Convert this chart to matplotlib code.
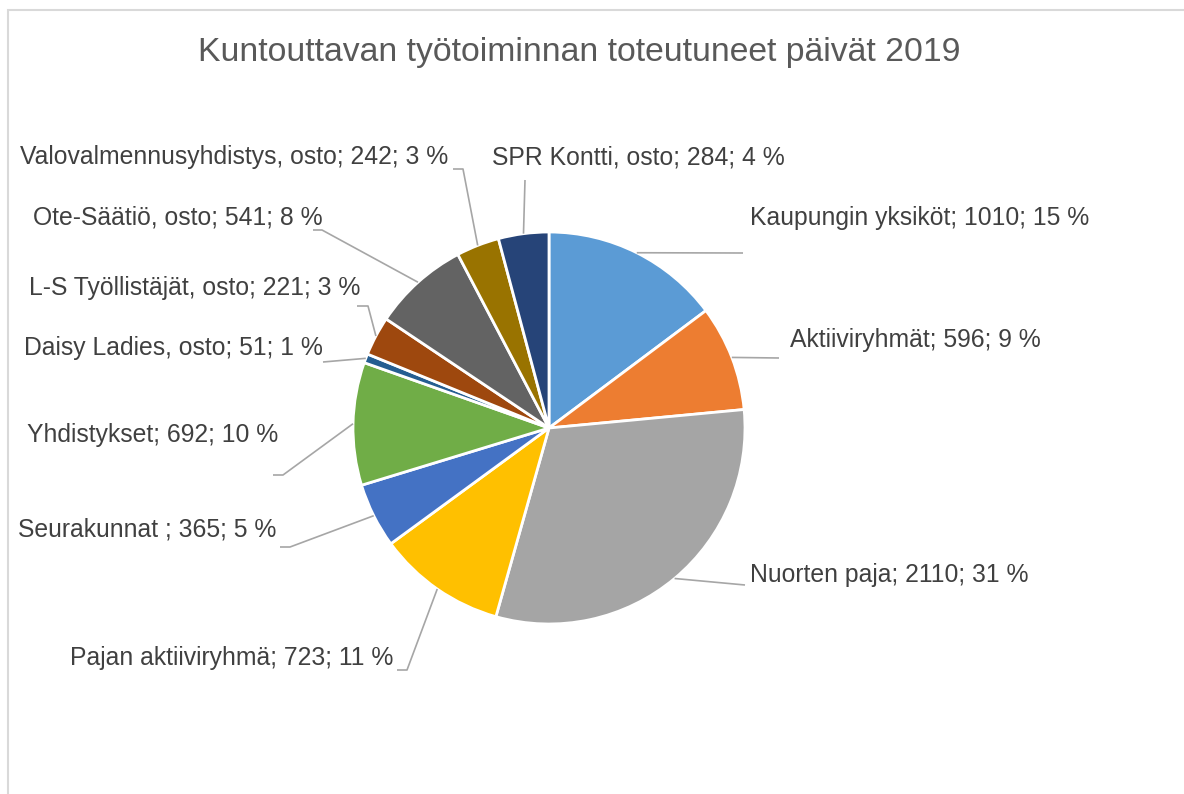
import matplotlib.pyplot as plt
from matplotlib.patches import Rectangle
import numpy as np

plt.rcParams["font.family"] = ["Liberation Sans", "DejaVu Sans"]

W, H = 1184, 794

names = [
    "Kaupungin yksiköt",
    "Aktiiviryhmät",
    "Nuorten paja",
    "Pajan aktiiviryhmä",
    "Seurakunnat ",
    "Yhdistykset",
    "Daisy Ladies, osto",
    "L-S Työllistäjät, osto",
    "Ote-Säätiö, osto",
    "Valovalmennusyhdistys, osto",
    "SPR Kontti, osto",
]
values = [1010, 596, 2110, 723, 365, 692, 51, 221, 541, 242, 284]
percents = [15, 9, 31, 11, 5, 10, 1, 3, 8, 3, 4]
colors = ["#5B9BD5", "#ED7D31", "#A5A5A5", "#FFC000", "#4472C4", "#70AD47",
          "#255E91", "#9E480E", "#636363", "#997300", "#264478"]

# label layout in pixel coords (y from top): text anchor, ha, leader path after wedge point
layout = [
    ((750, 218), "left", [(743, 253)]),
    ((790, 340), "left", [(779, 358)]),
    ((750, 575), "left", [(745, 585)]),
    ((393, 658), "right", [(407, 670), (397, 670)]),
    ((276, 530), "right", [(290, 547), (280, 547)]),
    ((278, 435), "right", [(283, 475), (273, 475)]),
    ((323, 348), "right", [(323, 362)]),
    ((360, 288), "right", [(368, 306), (357, 306)]),
    ((323, 217), "right", [(322, 230), (313, 230)]),
    ((448, 157), "right", [(463, 169), (453, 169)]),
    ((492, 157), "left", [(525, 180)]),
]

cx, cy, r = 549, 428, 196

fig = plt.figure(figsize=(W / 100, H / 100), dpi=100)
ax = fig.add_axes([0, 0, 1, 1])

ax.add_patch(Rectangle((8, -20), W + 20, H - 10 + 20, fill=False,
                       edgecolor="#D9D9D9", linewidth=1.5))

wedges, _ = ax.pie(values, colors=colors, startangle=90, counterclock=False,
                   center=(cx, H - cy), radius=r,
                   wedgeprops=dict(edgecolor="white", linewidth=2))
ax.set_xlim(0, W)
ax.set_ylim(0, H)
ax.set_aspect("equal")
ax.axis("off")

for w, name, val, pct, (tpos, ha, path) in zip(wedges, names, values, percents, layout):
    mid = np.deg2rad((w.theta1 + w.theta2) / 2)
    sx = cx + r * np.cos(mid)
    sy = (H - cy) + r * np.sin(mid)
    xs = [sx] + [p[0] for p in path]
    ys = [sy] + [H - p[1] for p in path]
    ax.plot(xs, ys, color="#A6A6A6", linewidth=1.2, solid_capstyle="butt")
    ax.text(tpos[0], H - tpos[1], f"{name}; {val}; {pct} %", ha=ha, va="center",
            fontsize=17.8, color="#404040")

ax.text(579, H - 52, "Kuntouttavan työtoiminnan toteutuneet päivät 2019",
        ha="center", va="center", fontsize=24.3, color="#595959")

fig.savefig("out.png", dpi=100)
